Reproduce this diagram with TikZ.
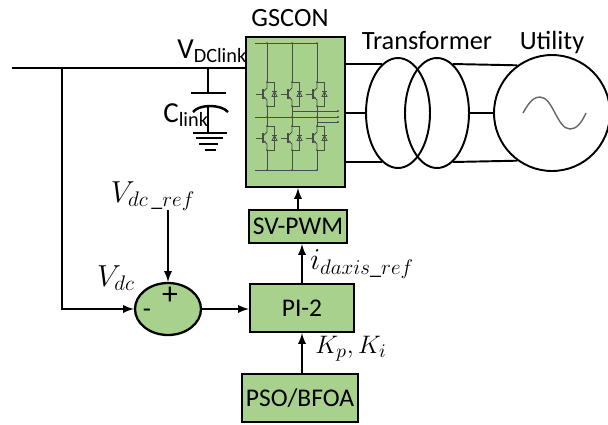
\documentclass[tikz,border=0pt]{standalone}
\usepackage{amsmath,amssymb}
\usepackage{fontspec}
\setmainfont{Carlito}
\usepackage{xcolor}
\usetikzlibrary{positioning,shapes,shapes.geometric,arrows}
\definecolor{blockgreen}{HTML}{A9D18E}

\tikzset{
  block/.style={draw, line width=1.3pt, fill=blockgreen, inner sep=0pt, font=\fontsize{14.5}{16}\selectfont},
  wire/.style={line width=1.1pt},
  sigarrow/.style={line width=1.1pt, -latex},
  lbl/.style={inner sep=0pt, font=\fontsize{15}{17}\selectfont},
  biglbl/.style={inner sep=0pt, font=\fontsize{16.5}{18}\selectfont},
  mathlbl/.style={inner sep=0pt, font=\fontsize{18}{20}\selectfont},
  igbt/.pic={
    \draw (-11.5,0) -- (-4,0);
    \draw[line width=0.7pt] (-4,-5) -- (-4,5);
    \draw (0,-12) -- (0,-6) -- (-4,-2);
    \draw (-4,2) -- (0,6) -- (0,12);
    \draw (0,-12) -- (7.5,-12) -- (7.5,12) -- (0,12);
    \draw (5,-2.5) -- (10,-2.5);
    \draw (5,2.5) -- (10,2.5) -- (7.5,-2.5) -- cycle;
    \fill (0,-12) circle (1); \fill (0,12) circle (1); \fill (-2,4) circle (0.8);
  }
}

\begin{document}
\begin{tikzpicture}[x=0.02cm,y=-0.02cm]
\useasboundingbox (0,0) rectangle (608,424);

% Blocks
\node[block, minimum width=1.98cm, minimum height=3.0cm] (gscon) at (295.5,112) {};
\node[block, minimum width=1.96cm, minimum height=0.66cm] (svpwm) at (298,226.5) {SV-PWM};
\node[block, minimum width=2.08cm, minimum height=0.96cm] (pi) at (302,308) {PI-2};
\node[block, minimum width=2.32cm, minimum height=0.96cm] (pso) at (300,398) {PSO/BFOA};
\node[block, ellipse, minimum width=1.32cm, minimum height=1.04cm] (sum) at (168,309) {};

% Transformer and utility
\node[draw, ellipse, line width=1.1pt, minimum width=1.28cm, minimum height=2.2cm, inner sep=0pt] (tleft) at (398,113) {};
\node[draw, ellipse, line width=1.1pt, minimum width=1.28cm, minimum height=2.2cm, inner sep=0pt] (tright) at (437,113) {};
\node[draw, circle, line width=1.1pt, minimum size=2.32cm, inner sep=0pt] (utility) at (552,113) {};

% Labels
\node[lbl] (gsconlbl) at (290,18) {GSCON};
\node[lbl] (translbl) at (427,41) {Transformer};
\node[lbl] (utillbl) at (552,42) {Utility};
\node[biglbl, anchor=base west] (vlink) at (177,58) {V\textsubscript{DClink}};
\node[biglbl, anchor=base west] (clink) at (163,122) {C\textsubscript{link}};
\node[mathlbl] (vref) at (153,196) {$V_{dc\,\_ref}$};
\node[mathlbl] (vdc) at (116,278) {$V_{dc}$};
\node[mathlbl] (idaxis) at (362,264) {$i_{daxis\_ref}$};
\node[mathlbl, font=\fontsize{15}{17}\selectfont] (kpki) at (351,349) {$K_p, K_i$};
\node[mathlbl] (plus) at (170,296) {+};
\node[lbl] (minus) at (147,313) {-};

% DC link
\coordinate (dcstart) at (12,68);
\coordinate (dctap) at (62,68);
\coordinate (captap) at (208,68);
\coordinate (cappos) at (208,93);
\coordinate (capneg) at (208,107);
\coordinate (gnd) at (208,133);
\coordinate (vrefend) at (168,210);
\draw[wire] (dcstart) -- (dcstart -| gscon.west);
\draw[wire] (captap) -- (cappos);
\draw[wire] (191,93) -- (226,93);
\draw[wire, line width=1.4pt] (193,112) .. controls (199,104) and (221,104) .. (228,112);
\draw[wire] (capneg) -- (gnd);
\draw[wire] (193,133) -- (227,133);
\draw[wire] (196,138) -- (223,138);
\draw[wire] (199,144) -- (218,144);
\draw[wire] (205,150) -- (216,150);

% Signal paths
\draw[wire, -latex] (dctap) |- (sum.west);
\draw[sigarrow] (sum.east) -- (pi.west |- sum.east);
\draw[sigarrow] (vrefend) -- (sum.north);
\draw[sigarrow] (svpwm.north) -- (svpwm.north |- gscon.south);
\draw[sigarrow] (pi.north) -- (pi.north |- svpwm.south);
\draw[sigarrow] (pso.north -| pi.south) -- (pi.south);

% Three phase lines
\draw[wire] (gscon.east |- tleft.108) -- (tleft.108);
\draw[wire] (gscon.east |- tleft.west) -- (tleft.west);
\draw[wire] (gscon.east |- tleft.252) -- (tleft.252);
\draw[wire] (tright.72) -- (utility.126);
\draw[wire] (tright.east) -- (utility.west);
\draw[wire] (tright.-72) -- (utility.234);

% Sine wave
\draw[gray!80!black, line width=0.8pt] (523,113) .. controls (530,100) and (535,97) .. (540,97)
  .. controls (553,97) and (557,129) .. (570,129) .. controls (576,129) and (581,124) .. (586,113);

% Switches
\begin{scope}[black!70, line width=0.5pt]
\draw (255,43) -- (317,43);
\draw (255,117) -- (338,117);
\draw (255,170) -- (317,170);
\draw (292,111) -- (338,111);
\draw (317,122) -- (338,122);
\foreach \x in {267,292,317} {
  \draw (\x,43) -- (\x,82);
  \draw (\x,106) -- (\x,126);
  \draw (\x,150) -- (\x,170);
  \pic at (\x,94) {igbt};
  \pic at (\x,138) {igbt};
  \fill (\x,43) circle (1);
  \fill (\x,117) circle (1);
  \fill (\x,170) circle (1);
}
\foreach \y in {111,117,122} {
  \fill (338,\y) circle (1.2);
}
\end{scope}
\end{tikzpicture}
\end{document}
